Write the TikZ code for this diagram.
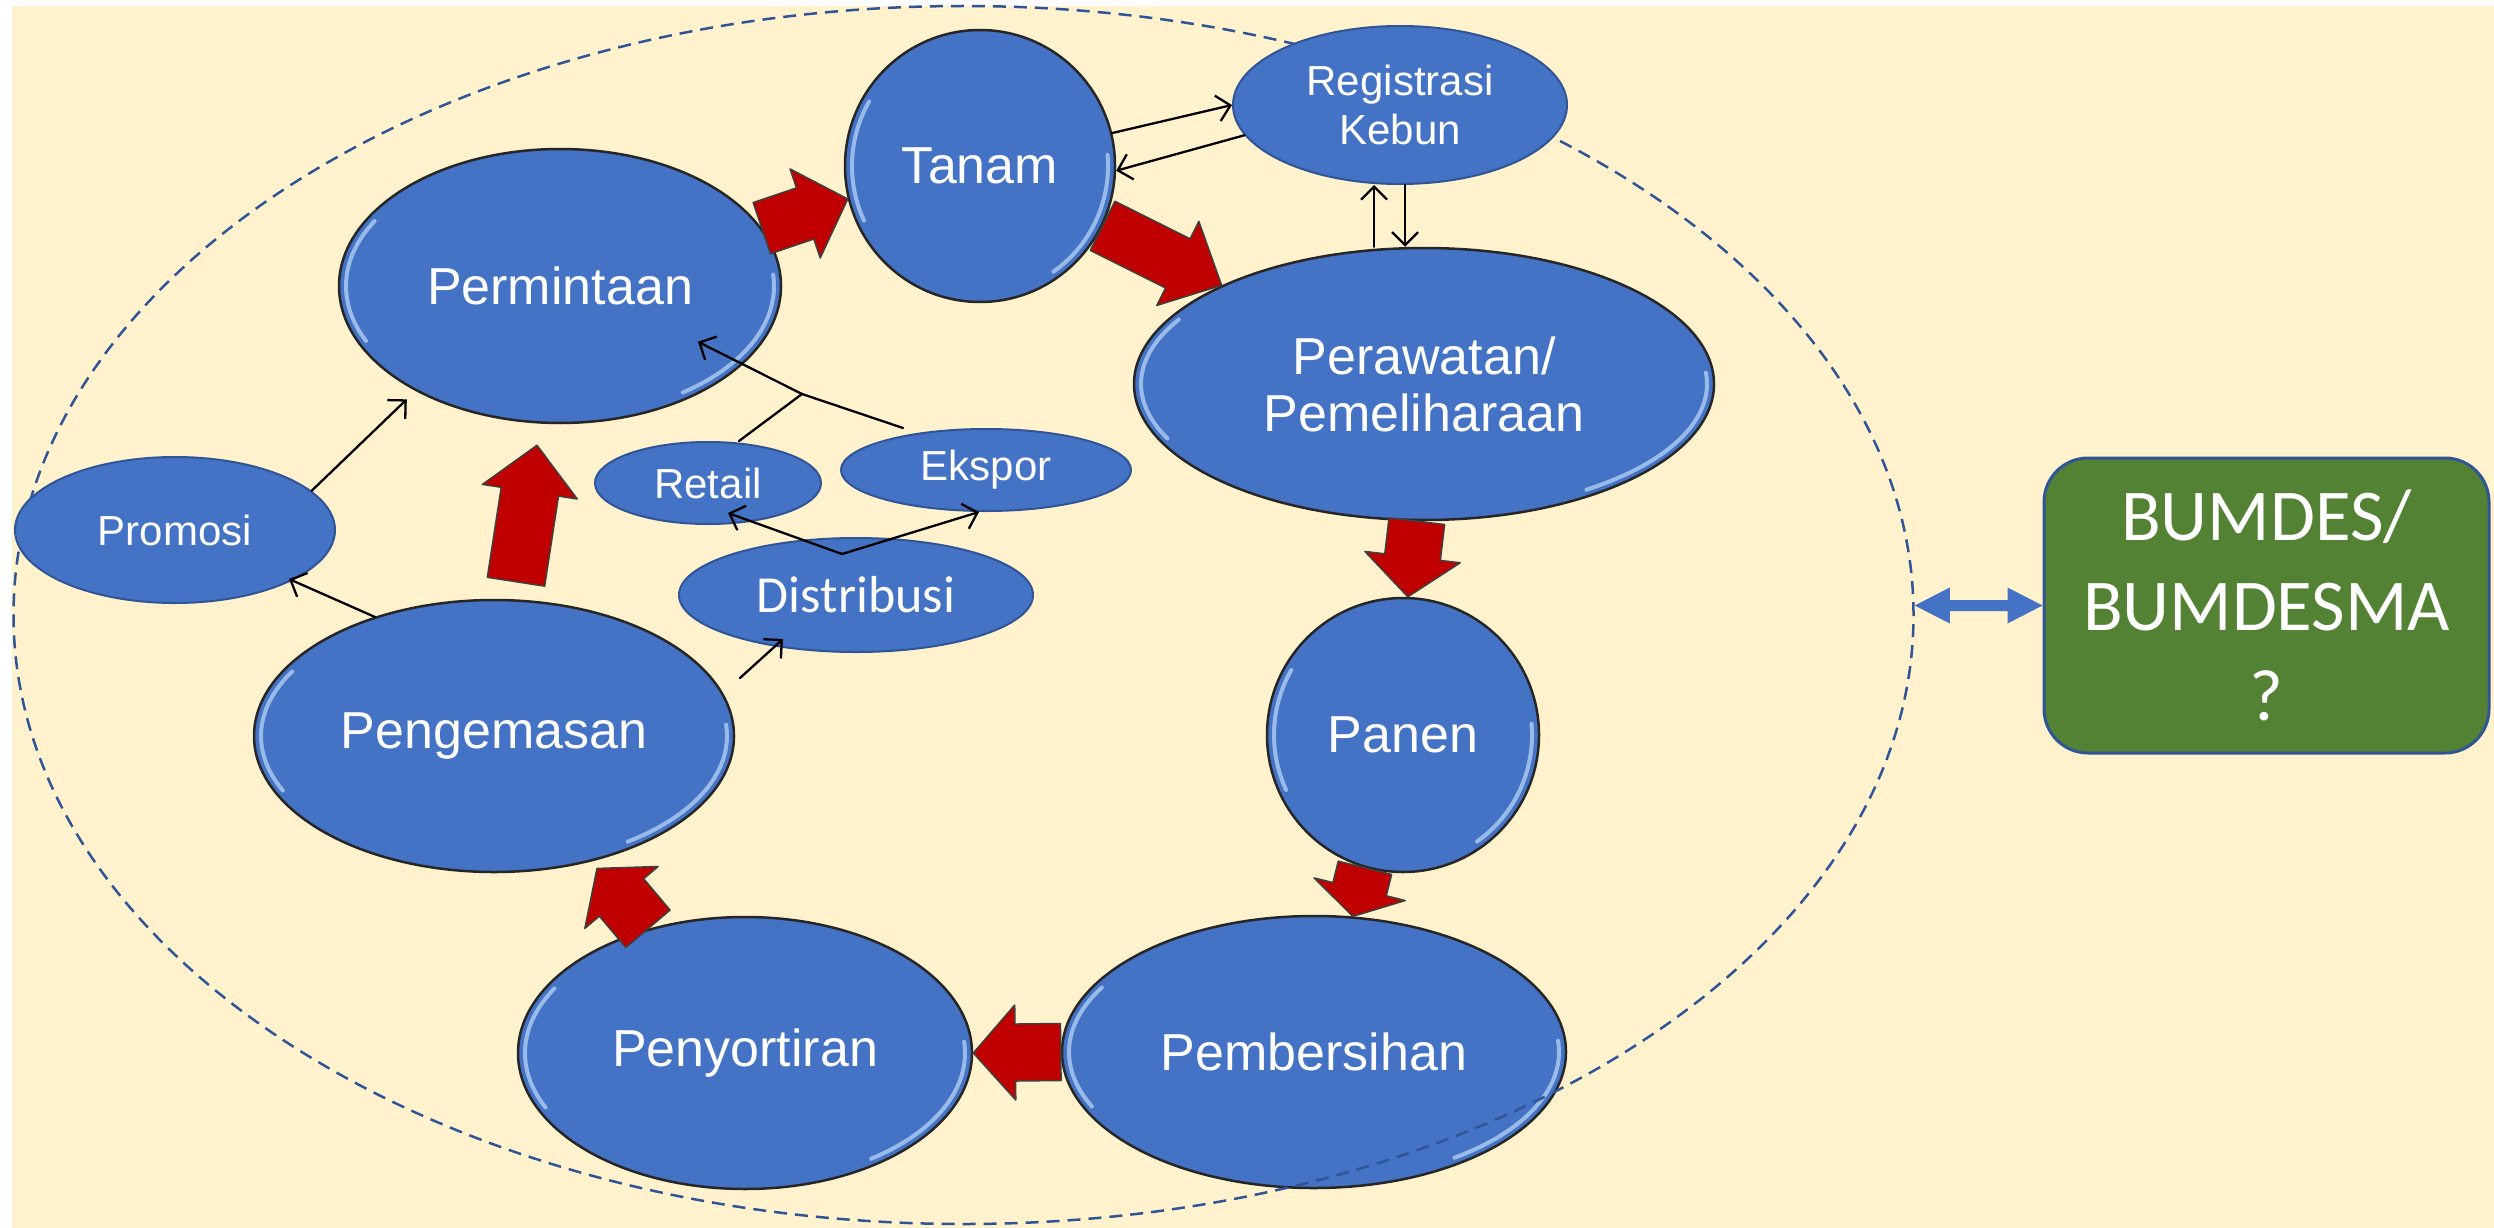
\documentclass[tikz,border=0pt]{standalone}
\usepackage{fontspec}
\setmainfont{Liberation Sans}
\newfontfamily\calfont{Carlito}
\usetikzlibrary{calc,arrows.meta,shapes.geometric}
\definecolor{cream}{HTML}{FFF2CC}
\definecolor{nodeblue}{HTML}{4472C4}
\definecolor{darkblue}{HTML}{2F5597}
\definecolor{rimblue}{HTML}{A9C8F0}
\definecolor{arrred}{HTML}{C00000}
\definecolor{boxgreen}{HTML}{548235}

\newcommand\bignode[6]{%
  \node[big, minimum width=#4pt, minimum height=#5pt] (#1) at (#2,#3) {#6};
  \pgfmathsetmacro\myrx{#4/2-7}\pgfmathsetmacro\myry{#5/2-7}
  \draw[rim] (#1.center) ++(150:\myrx\space and \myry) arc[start angle=150,end angle=205,x radius=\myrx,y radius=\myry];
  \draw[rim] (#1.center) ++(-55:\myrx\space and \myry) arc[start angle=-55,end angle=5,x radius=\myrx,y radius=\myry];
}
\newcommand\redarr[5]{%
  \path (#1) coordinate (ra-s) (#2) coordinate (ra-e);
  \path ($(ra-e)!#5!(ra-s)$) coordinate (ra-b);
  \filldraw[redarrow] ($(ra-s)!#3!90:(ra-e)$) -- ($(ra-b)!#3!90:(ra-e)$) -- ($(ra-b)!#4!90:(ra-e)$) -- (ra-e)
     -- ($(ra-b)!#4!-90:(ra-e)$) -- ($(ra-b)!#3!-90:(ra-e)$) -- ($(ra-s)!#3!-90:(ra-e)$) -- cycle;
}

\begin{document}
\begin{tikzpicture}[x=1pt,y=1pt,
  big/.style={ellipse, fill=nodeblue, draw=black!85, line width=2.5pt, inner sep=0pt, text=white,
     font=\fontsize{52}{57}\selectfont, align=center},
  small/.style={ellipse, fill=nodeblue, draw=darkblue, line width=2pt, inner sep=0pt, text=white,
     font=\fontsize{42}{49}\selectfont, align=center},
  rim/.style={draw=rimblue, line width=4pt, line cap=round, opacity=0.85},
  redarrow/.style={fill=arrred, draw=black!75, line width=1.5pt, line join=round},
  conn/.style={draw=black, line width=2.3pt, line cap=round, -{Straight Barb[length=13pt,width=26pt]}},
  plainline/.style={draw=black, line width=2.3pt, line cap=round, line join=round},
]
\useasboundingbox (0,0) rectangle (2494,-1228);
\fill[white] (0,0) rectangle (2494,-1228);
\fill[cream] (12,-6) rectangle (2494,-1228);

\bignode{pemb}{1314}{-1052}{504}{272}{Pembersihan}
\node[ellipse, draw=darkblue, line width=2.5pt, dash pattern=on 13pt off 8pt, minimum width=1900pt,
  minimum height=1218pt, inner sep=0pt] (ring) at (963.5,-615) {};

\bignode{tanam}{980}{-166}{270}{272}{Tanam}
\bignode{perm}{560}{-286}{442}{274}{Permintaan}
\bignode{peraw}{1424}{-384}{580}{272}{Perawatan/\\Pemeliharaan}
\bignode{panen}{1403}{-735}{272}{274}{Panen}
\bignode{peny}{745}{-1053}{454}{272}{Penyortiran}
\bignode{peng}{494}{-736}{480}{272}{Pengemasan}

\node[small, minimum width=334pt, minimum height=158pt] (reg) at (1400,-105) {Registrasi\\Kebun};
\node[small, minimum width=320pt, minimum height=146pt] (promo) at (175,-530) {Promosi};
\node[small, minimum width=226pt, minimum height=82pt] (retail) at (708,-483) {Retail};
\node[small, minimum width=290pt, minimum height=82pt] (ekspor) at (986,-470) {Ekspor};
\node[small, minimum width=354pt, minimum height=114pt, font=\calfont\fontsize{52}{60}\selectfont] (distr) at (856,-595) {Distribusi};

% red block arrows
\redarr{perm.16}{tanam.194}{27pt}{47pt}{45pt}
\redarr{tanam.-26}{peraw.154}{27.5pt}{47pt}{49pt}
\redarr{peraw.-93}{panen.88}{28pt}{48pt}{40pt}
\redarr{panen.-106}{pemb.74}{27.5pt}{47pt}{28pt}
\redarr{pemb.west}{peny.east}{28.5pt}{47.5pt}{42pt}
\redarr{peny.128}{[shift={(5,-7)}]peng.-52}{29pt}{48pt}{38pt}
\redarr{[shift={(22,17)}]peng.north}{[shift={(-23,-21)}]perm.south}{29pt}{48pt}{47pt}

% thin connectors
\draw[conn] (tanam.14) -- (reg.west);
\draw[conn] (reg.191) -- (tanam.-2);
\draw[conn] ([xshift=-50]peraw.north) -- ([xshift=-26]reg.south);
\draw[conn] ([xshift=5]reg.south) -- ([xshift=-19]peraw.north);
\draw[conn, shorten >=12pt] (promo.16) -- (perm.216);

\coordinate (jn) at (802,-394);
\draw[plainline] ([xshift=31]retail.north) -- (jn);
\draw[plainline] ([xshift=-83]ekspor.north) -- (jn);
\draw[conn] (jn) -- ($(perm.center)!0.74!(perm.-22)$);

\coordinate (ds) at ([shift={(-14,-17)}]distr.north);
\draw[conn] (ds) -- ([shift={(20,-30)}]retail.center);
\draw[conn] (ds) -- ([xshift=-7]ekspor.south);

\draw[conn] ([shift={(246,58)}]peng.center) -- ([shift={(-73,-44)}]distr.center);
\draw[conn] ([shift={(-119,119)}]peng.center) -- ([shift={(114,-49)}]promo.center);

% BUMDES box
\node[rectangle, rounded corners=44pt, fill=boxgreen, draw=darkblue, line width=3pt, minimum width=445pt,
  minimum height=295pt, text=white, align=center, font=\calfont\fontsize{73}{90}\selectfont, inner sep=0pt]
  (bum) at (2266.5,-605.5) {BUMDES/\\BUMDESMA\\?};

\path (ring.east |- bum.west) coordinate (da) (bum.west) coordinate (db);
\fill[nodeblue] (da) -- ([shift={(35,18)}]da) -- ([shift={(35,5.5)}]da) -- ([shift={(-35,5.5)}]db)
  -- ([shift={(-35,18)}]db) -- (db) -- ([shift={(-35,-18)}]db) -- ([shift={(-35,-5.5)}]db)
  -- ([shift={(35,-5.5)}]da) -- ([shift={(35,-18)}]da) -- cycle;
\end{tikzpicture}
\end{document}
